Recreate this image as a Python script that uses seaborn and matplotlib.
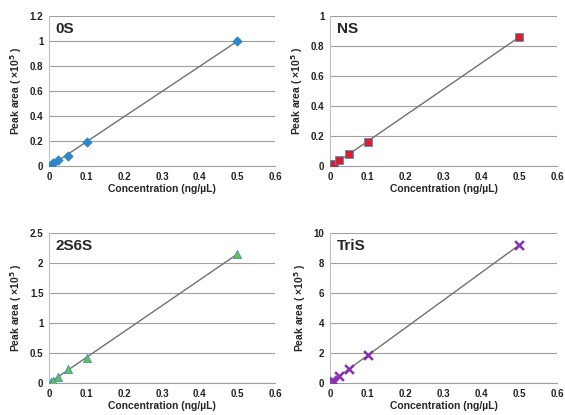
import numpy as np
import pandas as pd
import seaborn as sns
import matplotlib.pyplot as plt

# concentrations (ng/uL)
conc = [0.005, 0.01, 0.025, 0.05, 0.1, 0.5]

# peak areas (x10^5)
area_0s = [0.01, 0.02, 0.05, 0.08, 0.19, 1.0]
area_ns = [0.0, 0.01, 0.04, 0.08, 0.16, 0.86]
area_2s6s = [0.02, 0.04, 0.10, 0.24, 0.41, 2.15]
area_tris = [0.2, 0.1, 0.45, 0.95, 1.85, 9.2]

names = ["0S", "NS", "2S6S", "TriS"]
ymax = [1.2, 1, 2.5, 10]
ystep = [0.2, 0.2, 0.5, 2]
markers = ["D", "s", "^", "x"]
colors = ["#2e86c8", "#d9202a", "#6cc04a", "#8a2fb0"]
edges = ["#2e86c8", "#4a90d0", "#3a8fd0", "#8a2fb0"]
sizes = [22, 30, 34, 40]

sns.set_style("white")
plt.rcParams["font.family"] = ["Liberation Sans", "DejaVu Sans"]
plt.rcParams["font.weight"] = "bold"

fig = plt.figure(figsize=(5.65, 4.15), dpi=100)
W, H = 565, 415
boxes = [(49, 16, 275, 166), (330, 16, 557, 166),
         (49, 233, 275, 383), (330, 233, 557, 383)]

series = [area_0s, area_ns, area_2s6s, area_tris]
for i, (l, t, r, b) in enumerate(boxes):
    ax = fig.add_axes([l / W, 1 - b / H, (r - l) / W, (b - t) / H])
    df = pd.DataFrame({"x": conc, "y": series[i]})
    sns.regplot(data=df, x="x", y="y", ax=ax, scatter=False, ci=None, truncate=True,
                line_kws=dict(color="#707070", lw=1.0))
    if markers[i] == "x":
        sns.scatterplot(data=df, x="x", y="y", ax=ax, marker="x", color=colors[i],
                        s=sizes[i], linewidth=1.8, zorder=3)
    else:
        sns.scatterplot(data=df, x="x", y="y", ax=ax, marker=markers[i], color=colors[i],
                        edgecolor=edges[i], linewidth=0.6, s=sizes[i], zorder=3)
    ax.set_xlim(0, 0.6)
    ax.set_ylim(0, ymax[i])
    ax.set_xticks(np.arange(0, 0.61, 0.1))
    ax.set_xticklabels(["0", "0.1", "0.2", "0.3", "0.4", "0.5", "0.6"])
    yt = np.arange(0, ymax[i] + 1e-9, ystep[i])
    ax.set_yticks(yt)
    ax.set_yticklabels(["%g" % v for v in yt])
    ax.yaxis.grid(True, color="#a0a0a0", lw=0.8)
    ax.set_axisbelow(True)
    for s in ["top", "right"]:
        ax.spines[s].set_visible(False)
    ax.spines["left"].set_color("#c0c0c0")
    ax.spines["bottom"].set_color("#a0a0a0")
    ax.tick_params(axis="both", labelsize=7, length=0, pad=4, colors="#222222")
    ax.set_xlabel("Concentration (ng/\u00b5L)", fontsize=7.5, fontweight="bold", labelpad=2)
    ax.set_ylabel("Peak area ( \u00d710$^{5}$ )", fontsize=7.5, fontweight="bold", labelpad=4)
    ax.text(0.03, 0.96, names[i], transform=ax.transAxes, fontsize=11,
            fontweight="bold", va="top", ha="left")

fig.savefig("out.png", dpi=100)
